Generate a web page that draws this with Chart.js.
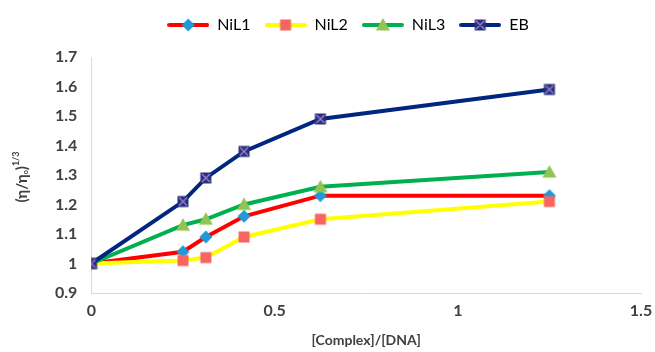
<!DOCTYPE html>
<html>
<head>
<meta charset="utf-8">
<script src="https://cdn.jsdelivr.net/npm/chart.js@4"></script>
<style>
    body { margin: 0; background: #fff; }
    #wrap { width: 655px; height: 352px; }
</style>
</head>
<body>
<div id="wrap"><canvas id="chart" width="655" height="352"></canvas></div>
<script>
// Data
const ratios = [0, 0.25, 0.3125, 0.4167, 0.625, 1.25];
const nil1 = [1, 1.04, 1.09, 1.16, 1.23, 1.23];
const nil2 = [1, 1.01, 1.02, 1.09, 1.15, 1.21];
const nil3 = [1, 1.13, 1.15, 1.20, 1.26, 1.31];
const eb = [1, 1.21, 1.29, 1.38, 1.49, 1.59];
const seriesNames = ['NiL1', 'NiL2', 'NiL3', 'EB'];
const xTicks = [0, 0.5, 1, 1.5];
const yTicks = [0.9, 1, 1.1, 1.2, 1.3, 1.4, 1.5, 1.6, 1.7];

const FONT = 'Lato, "Open Sans", sans-serif';
const TEXT = '#404040';

// marker drawing helpers
function drawMarker(ctx, kind, cx, cy) {
    ctx.save();
    if (kind === 'diamond') {
        ctx.fillStyle = '#1f9ad6';
        ctx.beginPath();
        ctx.moveTo(cx, cy - 6.5);
        ctx.lineTo(cx + 6.5, cy);
        ctx.lineTo(cx, cy + 6.5);
        ctx.lineTo(cx - 6.5, cy);
        ctx.closePath();
        ctx.fill();
    } else if (kind === 'square') {
        ctx.fillStyle = '#f86464';
        ctx.fillRect(cx - 5.5, cy - 5.5, 11, 11);
    } else if (kind === 'triangle') {
        ctx.fillStyle = '#92c353';
        ctx.beginPath();
        ctx.moveTo(cx, cy - 7);
        ctx.lineTo(cx + 7, cy + 5.5);
        ctx.lineTo(cx - 7, cy + 5.5);
        ctx.closePath();
        ctx.fill();
    } else {
        ctx.fillStyle = '#27307a';
        ctx.fillRect(cx - 5.5, cy - 5.5, 11, 11);
        ctx.strokeStyle = '#a17fd6';
        ctx.lineWidth = 1.3;
        ctx.beginPath();
        ctx.moveTo(cx - 4, cy - 4);
        ctx.lineTo(cx + 4, cy + 4);
        ctx.moveTo(cx + 4, cy - 4);
        ctx.lineTo(cx - 4, cy + 4);
        ctx.stroke();
    }
    ctx.restore();
}

function markerCanvas(kind) {
    const c = document.createElement('canvas');
    c.width = 16;
    c.height = 16;
    drawMarker(c.getContext('2d'), kind, 8, 8);
    return c;
}

function legendCanvas(kind, color) {
    const c = document.createElement('canvas');
    c.width = 42;
    c.height = 16;
    const ctx = c.getContext('2d');
    ctx.strokeStyle = color;
    ctx.lineWidth = 4;
    ctx.lineCap = 'round';
    ctx.beginPath();
    ctx.moveTo(2, 8);
    ctx.lineTo(40, 8);
    ctx.stroke();
    drawMarker(ctx, kind, 21, 8);
    return c;
}

const styles = [
    { kind: 'diamond', color: '#ff0000' },
    { kind: 'square', color: '#ffff00' },
    { kind: 'triangle', color: '#00b050' },
    { kind: 'ebox', color: '#002680' }
];
const allValues = [nil1, nil2, nil3, eb];

const datasets = allValues.map((vals, i) => ({
    label: seriesNames[i],
    data: ratios.map((x, j) => ({ x: x, y: vals[j] })),
    borderColor: styles[i].color,
    backgroundColor: styles[i].color,
    borderWidth: 4,
    pointStyle: markerCanvas(styles[i].kind),
    tension: 0,
    order: 4 - i
}));

// push the plot down a bit below the legend
const legendGap = {
    id: 'legendGap',
    beforeInit(chart) {
        const fit = chart.legend.fit;
        chart.legend.fit = function () {
            fit.bind(chart.legend)();
            this.height += 14;
        };
    }
};

// y axis title with superscript
const yTitlePlugin = {
    id: 'yTitle',
    afterDraw(chart) {
        const ctx = chart.ctx;
        const area = chart.chartArea;
        ctx.save();
        ctx.translate(22, (area.top + area.bottom) / 2 + 2);
        ctx.rotate(-Math.PI / 2);
        ctx.fillStyle = TEXT;
        ctx.textBaseline = 'middle';
        const main = '(η/η';
        const sub = 'o';
        const close = ')';
        const sup = '1/3';
        ctx.font = 'bold 15px ' + FONT;
        const w1 = ctx.measureText(main).width;
        ctx.font = 'bold 7px ' + FONT;
        const w2 = ctx.measureText(sub).width;
        ctx.font = 'bold 15px ' + FONT;
        const w3 = ctx.measureText(close).width;
        ctx.font = 'bold 9px ' + FONT;
        const w4 = ctx.measureText(sup).width;
        let x = -(w1 + w2 + w3 + w4) / 2;
        ctx.font = 'bold 15px ' + FONT;
        ctx.fillText(main, x, 0);
        x += w1;
        ctx.font = 'bold 7px ' + FONT;
        ctx.fillText(sub, x, 4);
        x += w2;
        ctx.font = 'bold 15px ' + FONT;
        ctx.fillText(close, x, 0);
        x += w3;
        ctx.font = 'bold 9px ' + FONT;
        ctx.fillText(sup, x, -6);
        ctx.restore();
    }
};

new Chart(document.getElementById('chart'), {
    type: 'line',
    data: { datasets: datasets },
    options: {
        responsive: false,
        animation: false,
        layout: { padding: { left: 41, right: 0, top: 3, bottom: 3 } },
        plugins: {
            legend: {
                position: 'top',
                labels: {
                    usePointStyle: true,
                    pointStyleWidth: 42,
                    boxHeight: 15,
                    padding: 14,
                    color: TEXT,
                    font: { family: FONT, size: 16 },
                    generateLabels: (chart) => seriesNames.map((name, i) => ({
                        text: name,
                        fillStyle: styles[i].color,
                        strokeStyle: styles[i].color,
                        lineWidth: 0,
                        pointStyle: legendCanvas(styles[i].kind, styles[i].color),
                        datasetIndex: i,
                        hidden: false
                    }))
                }
            },
            tooltip: { enabled: false }
        },
        scales: {
            x: {
                type: 'linear',
                min: xTicks[0],
                max: xTicks[xTicks.length - 1],
                afterBuildTicks: (axis) => { axis.ticks = xTicks.map(v => ({ value: v })); },
                afterFit: (axis) => { axis.paddingRight = 14; },
                grid: { display: false, drawTicks: false },
                border: { display: true, color: '#d9d9d9', width: 1 },
                ticks: {
                    color: TEXT,
                    padding: 8,
                    font: { family: FONT, size: 16, weight: 'bold' },
                    callback: (v) => String(v)
                },
                title: {
                    display: true,
                    text: '[Complex]/[DNA]',
                    color: TEXT,
                    padding: { top: 4, bottom: 0 },
                    font: { family: FONT, size: 14, weight: 'bold' }
                }
            },
            y: {
                min: yTicks[0],
                max: yTicks[yTicks.length - 1],
                afterBuildTicks: (axis) => { axis.ticks = yTicks.map(v => ({ value: v })); },
                grid: { display: false, drawTicks: false },
                border: { display: true, color: '#d9d9d9', width: 1 },
                ticks: {
                    color: TEXT,
                    padding: 14,
                    font: { family: FONT, size: 16, weight: 'bold' },
                    callback: (v) => String(Math.round(v * 10) / 10)
                }
            }
        }
    },
    plugins: [legendGap, yTitlePlugin]
});
</script>
</body>
</html>
